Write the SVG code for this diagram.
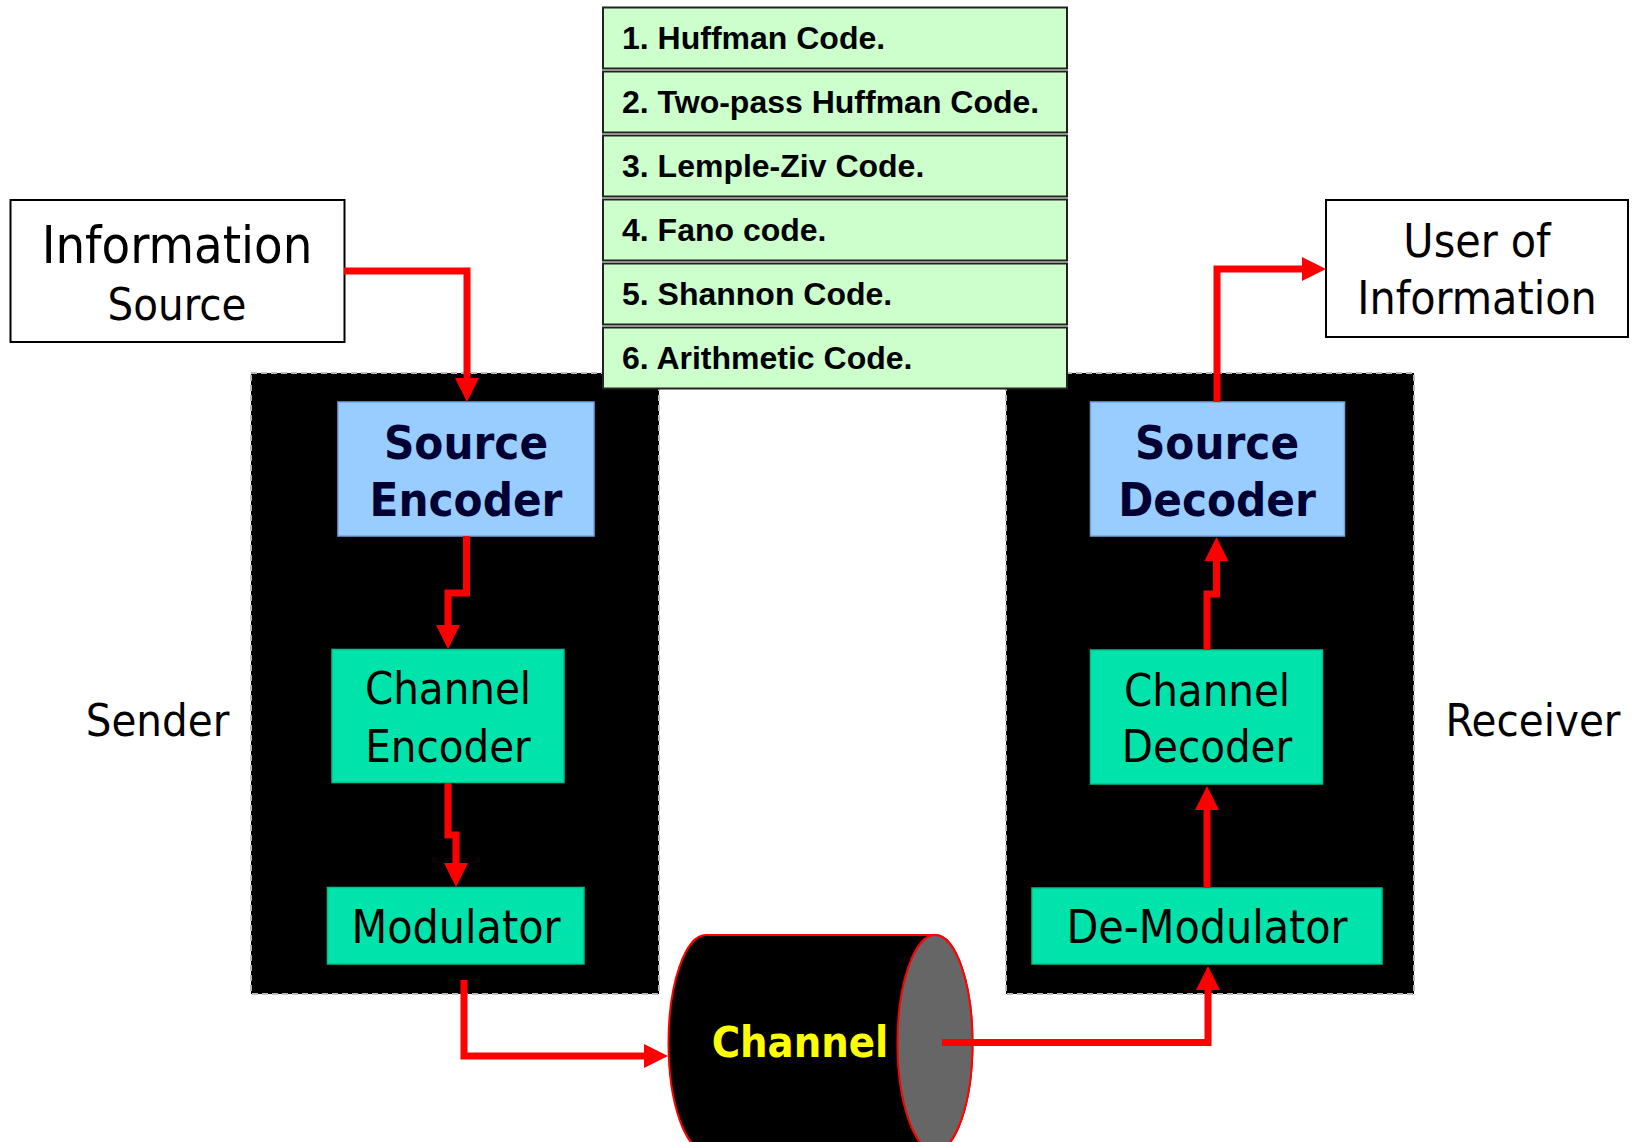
<svg xmlns="http://www.w3.org/2000/svg" width="1635" height="1142" viewBox="0 0 1635 1142">
<style>
.t{font-family:"DejaVu Sans Condensed","DejaVu Sans","Liberation Sans",sans-serif;font-stretch:condensed;text-anchor:middle;fill:#000}
.b{font-weight:bold}
.list rect{fill:#CCFFCC;stroke:#222;stroke-width:2}
.list text{font-family:"Liberation Sans",Arial,sans-serif;font-weight:bold;font-size:32px;fill:#000}
.white{fill:#fff;stroke:#000;stroke-width:2}
.blk{fill:#000;stroke:#bbb;stroke-width:2;stroke-dasharray:6 4}
.blue{fill:#99CCFF;stroke:#6fa8dc;stroke-width:1.5}
.green{fill:#00E3AA;stroke:#00c090;stroke-width:1.5}
.navy{fill:#000033}
.conn path{fill:none;stroke:#FF0000;stroke-width:7;stroke-linejoin:miter;marker-end:url(#ah)}
</style>
<defs>
<marker id="ah" markerUnits="userSpaceOnUse" markerWidth="24" markerHeight="24" viewBox="0 0 24 24" refX="0" refY="12" orient="auto">
<path d="M0,0 L24,12 L0,24 Z" fill="#FF0000"/>
</marker>
</defs>
<rect width="1635" height="1142" fill="#fff"/>

<g id="sender-box"><rect class="blk" x="251" y="373" width="408" height="621"/></g>
<g id="receiver-box"><rect class="blk" x="1006" y="373" width="408" height="621"/></g>

<g id="code-list" class="list">
<g id="code1"><rect x="603" y="7.5" width="464" height="61"/><text x="622" y="49">1. Huffman Code.</text></g>
<g id="code2"><rect x="603" y="71.5" width="464" height="61"/><text x="622" y="113">2. Two-pass Huffman Code.</text></g>
<g id="code3"><rect x="603" y="135.5" width="464" height="61"/><text x="622" y="177">3. Lemple-Ziv Code.</text></g>
<g id="code4"><rect x="603" y="199.5" width="464" height="61"/><text x="622" y="241">4. Fano code.</text></g>
<g id="code5"><rect x="603" y="263.5" width="464" height="61"/><text x="622" y="305">5. Shannon Code.</text></g>
<g id="code6"><rect x="603" y="327.5" width="464" height="61"/><text x="622" y="369">6. Arithmetic Code.</text></g>
</g>

<g id="info-source">
<rect class="white" x="10.5" y="200" width="334" height="142"/>
<text class="t" x="177" y="263" font-size="52">Information</text>
<text class="t" x="177" y="320" font-size="45">Source</text>
</g>

<g id="user-info">
<rect class="white" x="1326" y="200" width="302" height="137"/>
<text class="t" x="1477" y="257" font-size="46">User of</text>
<text class="t" x="1477" y="314" font-size="46">Information</text>
</g>

<g id="source-encoder">
<rect class="blue" x="338" y="402" width="256" height="134"/>
<text class="t b navy" x="466" y="459" font-size="47">Source</text>
<text class="t b navy" x="466" y="516" font-size="47">Encoder</text>
</g>

<g id="channel-encoder">
<rect class="green" x="332" y="649.5" width="232" height="133"/>
<text class="t" x="448" y="704" font-size="45">Channel</text>
<text class="t" x="448" y="761.5" font-size="45">Encoder</text>
</g>

<g id="modulator">
<rect class="green" x="327.5" y="887.5" width="256.5" height="76.5"/>
<text class="t" x="456" y="943" font-size="46">Modulator</text>
</g>

<g id="source-decoder">
<rect class="blue" x="1090.5" y="402" width="254" height="134"/>
<text class="t b navy" x="1217" y="459" font-size="47">Source</text>
<text class="t b navy" x="1217" y="516" font-size="47">Decoder</text>
</g>

<g id="channel-decoder">
<rect class="green" x="1090.5" y="650" width="232" height="134"/>
<text class="t" x="1207" y="706" font-size="45">Channel</text>
<text class="t" x="1207" y="762" font-size="45">Decoder</text>
</g>

<g id="de-modulator">
<rect class="green" x="1032" y="888" width="350" height="76"/>
<text class="t" x="1207" y="943" font-size="46">De-Modulator</text>
</g>

<g id="sender-label"><text class="t" x="157.5" y="736" font-size="45">Sender</text></g>
<g id="receiver-label"><text class="t" x="1533" y="736" font-size="45">Receiver</text></g>

<g id="channel">
<path d="M706,935 H935 A37.5,108 0 0 1 935,1151 H706 A37.5,108 0 0 1 706,935 Z" fill="#000" stroke="#FF0000" stroke-width="2"/>
<ellipse cx="935" cy="1043" rx="37.5" ry="108" fill="#666666" stroke="#FF0000" stroke-width="2"/>
<text class="t b" x="800" y="1057" font-size="43" style="fill:#FFFF00">Channel</text>
</g>

<g id="connectors" class="conn">
<path d="M344,271 H467 V378"/>
<path d="M466.5,536 V593 H448 V625"/>
<path d="M448,783 V835 H456 V863"/>
<path d="M464,980 V1056 H644"/>
<path d="M942,1042.5 H1208 V990"/>
<path d="M1207,888 V810"/>
<path d="M1207,650 V594 H1216.5 V561"/>
<path d="M1217,402 V269 H1302"/>
</g>
</svg>
